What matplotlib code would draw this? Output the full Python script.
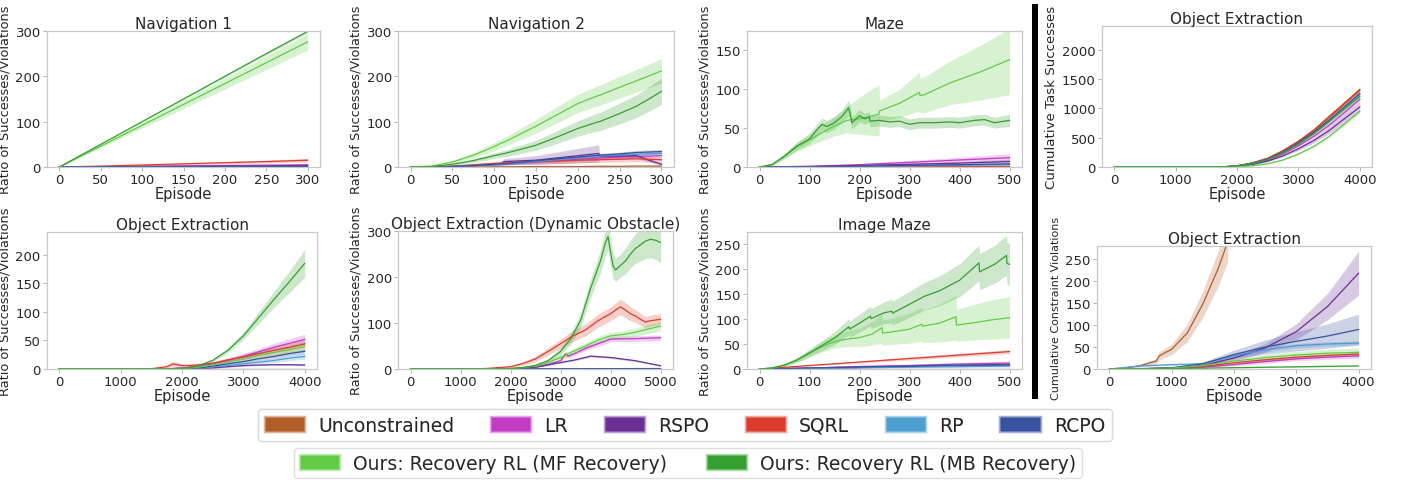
import matplotlib
matplotlib.use("Agg")
import matplotlib.pyplot as plt
from matplotlib.patches import Patch, Rectangle
import numpy as np

plt.rcParams['font.family'] = ['DejaVu Sans']

# ---------------- methods / colours ----------------
methods = ["Unconstrained", "LR", "RSPO", "SQRL", "RP", "RCPO", "MF", "MB"]
legend_labels = ["Unconstrained", "LR", "RSPO", "SQRL", "RP", "RCPO",
                 "Ours: Recovery RL (MF Recovery)", "Ours: Recovery RL (MB Recovery)"]
colors = ["#b15d28", "#c23bc4", "#6b2f95", "#dc3c2e", "#4a9ed0", "#37529e", "#62cc46", "#35a02f"]

# ---------------- Navigation 1 ----------------
nav1_x = [0, 50, 100, 150, 200, 250, 300]
nav1_mean = {
    "Unconstrained": [0, 0, 0, 0, 0, 0, 0],
    "LR": [0, 0.8, 1.6, 2.5, 3.3, 4.1, 5],
    "RSPO": [0, 0.5, 1, 1.5, 2, 2.5, 3],
    "SQRL": [0, 2, 4.5, 7, 9.5, 12, 15],
    "RP": [0, 0.2, 0.3, 0.5, 0.7, 0.8, 1],
    "RCPO": [0, 0.3, 0.5, 0.8, 1, 1.3, 1.5],
    "MF": [0, 46, 92, 138, 184, 230, 276],
    "MB": [0, 50, 100, 150, 200, 250, 299],
}
nav1_band = {
    "Unconstrained": [0, 0, 0, 0, 0, 0, 0],
    "LR": [0, 0.3, 0.5, 0.8, 1, 1.3, 1.5],
    "RSPO": [0, 0.2, 0.3, 0.5, 0.6, 0.8, 1],
    "SQRL": [0, 0.7, 1.3, 2, 2.7, 3.3, 4],
    "RP": [0, 0.1, 0.2, 0.3, 0.4, 0.5, 0.6],
    "RCPO": [0, 0.1, 0.2, 0.3, 0.4, 0.5, 0.6],
    "MF": [0, 3, 6, 9, 12, 15, 18],
    "MB": [0, 0.5, 1, 1.5, 2, 2.5, 3],
}

# ---------------- Navigation 2 ----------------
nav2_x = [0, 25, 50, 75, 100, 110, 111, 150, 175, 200, 225, 226, 250, 270, 285, 300]
nav2_mean = {
    "Unconstrained": [0, 0, 0, 0, 0.5, 0.5, 0.5, 1, 1, 1, 1.5, 1.5, 1.5, 2, 2, 2],
    "LR": [0, 0, 1, 3, 5, 6, 6, 11, 14, 17, 20, 20, 22, 23, 24, 25],
    "RSPO": [0, 0, 1, 3, 6, 7, 12, 15, 20, 25, 30, 24, 24, 25, 15, 6],
    "SQRL": [0, 0, 2, 5, 8, 9, 9, 12, 13, 15, 16, 16, 17, 18, 17, 16],
    "RP": [0, 0, 1, 3, 5, 6, 6, 12, 16, 20, 24, 24, 27, 28, 29, 30],
    "RCPO": [0, 0, 1, 3, 6, 7, 7, 14, 18, 22, 26, 26, 29, 32, 33, 34],
    "MF": [0, 2, 11, 26, 45, 54, 54, 90, 115, 140, 158, 158, 176, 190, 201, 212],
    "MB": [0, 1, 6, 14, 25, 29, 29, 48, 66, 85, 100, 100, 118, 134, 150, 167],
}
nav2_band = {
    "Unconstrained": [0, 0, 0, 0, 0.3, 0.3, 0.3, 0.5, 0.5, 0.5, 0.8, 0.8, 0.8, 1, 1, 1],
    "LR": [0, 0, 0.5, 1, 1.5, 2, 2, 2.5, 3, 3, 3.5, 3.5, 4, 4, 4, 4],
    "RSPO": [0, 0, 0.5, 1, 2, 3, 6, 10, 13, 16, 19, 5, 5, 5, 4, 3],
    "SQRL": [0, 0, 1, 2, 3, 4, 4, 5, 5, 6, 6, 6, 6, 6, 6, 6],
    "RP": [0, 0, 0.5, 1, 1.5, 2, 2, 2.5, 3, 3, 3.5, 3.5, 4, 4, 4, 4],
    "RCPO": [0, 0, 0.5, 1, 1.5, 2, 2, 3, 3, 3.5, 4, 4, 4, 4.5, 5, 5],
    "MF": [0, 1, 3, 6, 9, 10, 10, 15, 18, 20, 22, 22, 24, 25, 26, 27],
    "MB": [0, 1, 2, 4, 6, 7, 7, 11, 14, 17, 20, 20, 23, 25, 27, 29],
}

# ---------------- Maze ----------------
maze_x = [0, 100, 200, 300, 400, 500]
maze_mf_x = [0, 25, 50, 75, 100, 125, 150, 175, 200, 239, 240, 280, 320, 321, 330, 380, 440, 500]
maze_mb_x = [0, 25, 50, 75, 100, 115, 125, 135, 150, 165, 178, 180, 185, 200, 210, 220, 221,
             240, 260, 280, 300, 320, 350, 380, 400, 430, 450, 470, 500]
maze_mean = {
    "Unconstrained": [0, 0, 0, 0, 0, 0],
    "LR": [0, 1, 3, 6, 9, 12],
    "RSPO": [0, 0.5, 2, 3.5, 5, 7],
    "SQRL": [0, 0, 0.2, 0.3, 0.4, 0.5],
    "RP": [0, 0.2, 0.8, 1.5, 2.2, 3],
    "RCPO": [0, 0.3, 1, 2, 3, 4],
    "MF": [0, 3, 14, 26, 35, 44, 53, 60, 62, 68, 72, 82, 96, 92, 93, 108, 122, 138],
    "MB": [0, 3, 14, 27, 36, 48, 55, 52, 57, 65, 76, 72, 57, 66, 62, 64, 59, 60, 58, 59,
           55, 57, 57, 58, 57, 60, 61, 57, 60],
}
maze_band = {
    "Unconstrained": [0, 0, 0, 0, 0, 0],
    "LR": [0, 0.5, 1.5, 2.5, 3.5, 5],
    "RSPO": [0, 0.3, 1, 1.5, 2, 3],
    "SQRL": [0, 0, 0.1, 0.2, 0.2, 0.3],
    "RP": [0, 0.1, 0.4, 0.7, 1, 1.2],
    "RCPO": [0, 0.2, 0.5, 0.8, 1.2, 1.5],
    "MB": [0, 1, 3, 5, 6, 8, 8, 8, 8, 8, 10, 10, 8, 8, 7, 7, 7, 7, 7, 7, 7, 7, 7, 7, 7, 7, 7, 7, 8],
}
maze_mf_lo = [0, 2, 11, 20, 27, 34, 40, 44, 42, 40, 58, 64, 72, 70, 70, 80, 86, 93]
maze_mf_hi = [0, 4, 17, 32, 44, 55, 65, 78, 90, 106, 86, 100, 122, 114, 116, 136, 156, 178]

# ---------------- Object Extraction (ratio) ----------------
oe_x = [0, 1000, 1500, 1750, 1850, 1950, 2000, 2100, 2250, 2500, 2750, 3000, 3250, 3500, 3750, 4000]
oe_mean = {
    "Unconstrained": [0, 0, 0, 0, 0, 0, 0, 0, 0, 0, 0, 0, 0, 0, 0, 0],
    "LR": [0, 0, 0, 0.5, 1, 2, 2, 3, 5, 9, 15, 22, 30, 38, 45, 52],
    "RSPO": [0, 0, 0, 0, 0, 0.2, 0.3, 0.5, 1, 2, 4, 6, 7, 7.5, 7.5, 7],
    "SQRL": [0, 0, 0.5, 4, 9, 7, 6, 6, 7, 10, 16, 21, 27, 33, 38, 44],
    "RP": [0, 0, 0, 0, 0, 0.3, 0.5, 0.8, 1.5, 3.5, 6, 9, 12, 15, 19, 22],
    "RCPO": [0, 0, 0, 0, 0, 0.5, 0.5, 1, 2, 5, 9, 13, 18, 22, 27, 31],
    "MF": [0, 0, 0, 0, 0, 0.5, 1, 1.5, 3, 7, 12, 18, 24, 29, 34, 40],
    "MB": [0, 0, 0, 0, 0.5, 1, 1, 2, 5, 15, 33, 58, 90, 122, 153, 185],
}
oe_band = {
    "Unconstrained": [0, 0, 0, 0, 0, 0, 0, 0, 0, 0, 0, 0, 0, 0, 0, 0],
    "LR": [0, 0, 0, 0.3, 0.5, 1, 1, 1.5, 2, 3, 4, 5, 6, 7, 8, 9],
    "RSPO": [0, 0, 0, 0, 0, 0.1, 0.2, 0.3, 0.5, 0.8, 1, 1, 1, 1, 1, 1],
    "SQRL": [0, 0, 0.5, 2, 4, 4, 3, 3, 3, 3, 4, 5, 6, 7, 7, 8],
    "RP": [0, 0, 0, 0, 0, 0.2, 0.3, 0.5, 1, 1.5, 2, 3, 3.5, 4, 4.5, 5],
    "RCPO": [0, 0, 0, 0, 0, 0.3, 0.3, 0.5, 1, 1.5, 2, 2.5, 3, 3.5, 4, 4.5],
    "MF": [0, 0, 0, 0, 0, 0.3, 0.5, 1, 1.5, 2, 3, 4, 5, 6, 7, 8],
    "MB": [0, 0, 0, 0, 0, 0.3, 0.5, 1, 1.5, 2.5, 4, 6, 10, 14, 19, 24],
}

# ---------------- Object Extraction (Dynamic Obstacle) ----------------
dyn_base_x = [0, 2500, 5000]
dyn_mb_x = [0, 1000, 1500, 2000, 2250, 2500, 2750, 3000, 3200, 3400, 3500, 3600, 3700, 3800,
            3900, 3950, 4000, 4050, 4100, 4200, 4300, 4400, 4500, 4600, 4700, 4800, 4900, 5000]
dyn_sqrl_x = [0, 1000, 1500, 2000, 2250, 2500, 2750, 3000, 3250, 3500, 3750, 4000, 4100, 4200,
              4300, 4400, 4500, 4600, 4700, 4800, 5000]
dyn_mf_x = [0, 1000, 2000, 2500, 2750, 3000, 3250, 3500, 3750, 4000, 4250, 4500, 4750, 5000]
dyn_lr_x = [0, 1000, 2000, 2500, 2750, 3000, 3100, 3150, 3250, 3500, 3750, 4000, 4500, 5000]
dyn_rspo_x = [0, 1000, 2000, 2500, 3000, 3300, 3600, 4000, 4500, 5000]
dyn_mean = {
    "Unconstrained": [0, 0, 0],
    "LR": [0, 0, 0.5, 4, 10, 18, 33, 28, 32, 45, 55, 65, 66, 68],
    "RSPO": [0, 0, 0.5, 4, 14, 20, 28, 25, 18, 7],
    "SQRL": [0, 0, 1, 5, 12, 22, 38, 55, 72, 85, 105, 120, 128, 135, 128, 120, 115, 108, 102, 105, 108],
    "RP": [0, 0.3, 0.5],
    "RCPO": [0, 0.5, 1],
    "MF": [0, 0, 1, 6, 14, 25, 38, 50, 63, 72, 75, 80, 87, 93],
    "MB": [0, 0, 0, 1, 3, 8, 18, 38, 65, 105, 140, 175, 205, 235, 275, 288, 255, 225, 215, 225,
           235, 250, 262, 270, 278, 282, 280, 275],
}
dyn_band = {
    "Unconstrained": [0, 0, 0],
    "LR": [0, 0, 0.3, 1, 2, 3, 6, 4, 4, 5, 6, 6, 6, 6],
    "RSPO": [0, 0, 0.2, 1, 1.5, 2, 2, 2, 2, 1],
    "SQRL": [0, 0, 0.5, 2, 4, 6, 8, 10, 12, 13, 14, 15, 16, 17, 16, 15, 14, 13, 12, 12, 12],
    "RP": [0, 0.1, 0.2],
    "RCPO": [0, 0.2, 0.3],
    "MF": [0, 0, 0.5, 2, 3, 5, 6, 7, 8, 8, 8, 9, 10, 10],
    "MB": [0, 0, 0, 0.5, 1, 2, 4, 8, 12, 15, 17, 20, 22, 25, 28, 30, 30, 28, 25, 25, 28, 30,
           32, 35, 38, 40, 42, 44],
}

# ---------------- Image Maze ----------------
imz_x = [0, 100, 200, 300, 400, 500]
imz_mb_x = [0, 25, 50, 75, 100, 125, 150, 179, 180, 200, 222, 223, 245, 250, 265, 266, 300, 330,
            360, 400, 439, 440, 470, 494, 495, 500]
imz_mf_x = [0, 25, 50, 75, 100, 125, 150, 175, 200, 225, 245, 246, 275, 300, 325, 326, 360, 393,
            394, 430, 460, 500]
imz_mean = {
    "Unconstrained": [0, 0, 0, 0, 0, 0],
    "LR": [0, 2, 5, 7, 10, 12],
    "RSPO": [0, 1.5, 3, 5, 6, 8],
    "SQRL": [0, 7, 14, 21, 28, 35],
    "RP": [0, 1, 2.5, 4, 5, 6],
    "RCPO": [0, 2, 4, 6, 8, 9],
    "MF": [0, 2, 8, 18, 32, 45, 55, 60, 63, 70, 83, 72, 76, 80, 90, 86, 92, 105, 88, 93, 98, 103],
    "MB": [0, 2, 8, 18, 32, 47, 62, 85, 80, 92, 106, 101, 111, 113, 116, 112, 130, 146, 157,
           178, 213, 195, 210, 228, 212, 210],
}
imz_band = {
    "Unconstrained": [0, 0, 0, 0, 0, 0],
    "LR": [0, 1, 2, 2.5, 3, 3.5],
    "RSPO": [0, 0.5, 1, 1.5, 2, 2.5],
    "SQRL": [0, 1, 2, 3, 3.5, 4],
    "RP": [0, 0.5, 1, 1, 1.5, 2],
    "RCPO": [0, 0.5, 1, 1, 1.5, 2],
    "MB": [0, 1, 2, 4, 7, 10, 13, 16, 16, 18, 20, 20, 22, 22, 24, 24, 26, 28, 30, 33, 36, 36,
           38, 40, 42, 42],
}
imz_mf_lo = [0, 1, 5, 13, 24, 34, 42, 45, 45, 48, 52, 48, 50, 52, 56, 53, 54, 58, 56, 58, 60, 62]
imz_mf_hi = [0, 3, 11, 23, 40, 56, 68, 77, 82, 95, 110, 98, 105, 112, 124, 118, 130, 148, 120,
             130, 138, 145]

# ---------------- Cumulative task successes ----------------
succ_x = [0, 1000, 1500, 1800, 2000, 2250, 2500, 2750, 3000, 3250, 3500, 3750, 4000]
succ_mean = {
    "Unconstrained": [0, 0, 0, 5, 20, 70, 150, 280, 440, 630, 860, 1090, 1320],
    "LR": [0, 0, 0, 3, 15, 52, 115, 220, 360, 520, 710, 925, 1150],
    "RSPO": [0, 0, 0, 2, 12, 44, 100, 190, 310, 450, 620, 820, 1020],
    "SQRL": [0, 0, 0, 5, 20, 68, 145, 272, 430, 615, 840, 1070, 1300],
    "RP": [0, 0, 0, 4, 17, 60, 130, 248, 400, 575, 785, 1005, 1230],
    "RCPO": [0, 0, 0, 4, 18, 62, 135, 255, 410, 590, 800, 1025, 1250],
    "MF": [0, 0, 0, 1, 5, 20, 55, 120, 220, 350, 520, 730, 950],
    "MB": [0, 0, 0, 4, 17, 58, 128, 242, 390, 565, 770, 985, 1200],
}
succ_band = {
    "Unconstrained": [0, 0, 0, 1, 3, 6, 10, 15, 20, 25, 30, 32, 35],
    "LR": [0, 0, 0, 1, 3, 6, 10, 15, 22, 30, 38, 45, 50],
    "RSPO": [0, 0, 0, 1, 3, 6, 10, 18, 28, 40, 55, 70, 80],
    "SQRL": [0, 0, 0, 1, 3, 5, 8, 12, 16, 20, 24, 28, 30],
    "RP": [0, 0, 0, 1, 3, 5, 8, 12, 16, 20, 24, 28, 30],
    "RCPO": [0, 0, 0, 1, 3, 5, 8, 12, 16, 20, 24, 28, 30],
    "MF": [0, 0, 0, 0.5, 2, 4, 7, 10, 14, 18, 22, 26, 30],
    "MB": [0, 0, 0, 1, 3, 5, 8, 12, 16, 20, 24, 28, 30],
}

# ---------------- Cumulative constraint violations ----------------
viol_x = [0, 500, 1000, 1500, 2000, 2500, 3000, 3500, 4000]
viol_unc_x = [0, 250, 500, 750, 800, 1000, 1250, 1500, 1750, 1900]
viol_mean = {
    "Unconstrained": [0, 2, 8, 18, 30, 45, 82, 148, 230, 290],
    "LR": [0, 0.3, 1, 4, 10, 17, 23, 27, 30],
    "RSPO": [0, 0.5, 2, 8, 25, 48, 85, 142, 218],
    "SQRL": [0, 0.5, 2, 6, 14, 21, 27, 31, 34],
    "RP": [0, 7, 10, 12, 30, 44, 53, 57, 59],
    "RCPO": [0, 1, 3, 12, 33, 50, 63, 75, 90],
    "MF": [0, 0.5, 2, 8, 18, 26, 32, 36, 38],
    "MB": [0, 0.2, 1, 2, 3, 4, 5, 6, 7],
}
viol_band = {
    "Unconstrained": [0, 1, 3, 6, 9, 12, 20, 30, 40, 45],
    "LR": [0, 0.3, 1, 2, 3, 4, 4, 5, 5],
    "RSPO": [0, 0.3, 1, 3, 6, 10, 18, 30, 50],
    "SQRL": [0, 0.3, 1, 2, 3, 4, 4, 4, 4],
    "RP": [0, 1, 2, 2, 4, 5, 5, 5, 5],
    "RCPO": [0, 0.5, 1, 4, 10, 16, 22, 28, 35],
    "MF": [0, 0.3, 1, 3, 5, 7, 8, 9, 10],
    "MB": [0, 0.1, 0.3, 0.5, 0.6, 0.7, 0.8, 0.9, 1],
}

# ---------------- figure ----------------
W, H = 1402, 481
fig = plt.figure(figsize=(W / 100, H / 100), dpi=100)
SPINE = "#c8c8c8"
TXT = "#262626"


def px_axes(l, r, t, b):
    return fig.add_axes([l / W, 1 - b / H, (r - l) / W, (b - t) / H])


def style(ax, title, xticks, yticks, xlim, ylim, ylabel, ylsize=9.3):
    ax.set_title(title, fontsize=11, color=TXT, pad=2)
    ax.set_xticks(xticks)
    ax.set_yticks(yticks)
    ax.set_xlim(*xlim)
    ax.set_ylim(*ylim)
    ax.set_xlabel("Episode", fontsize=10.5, color=TXT, labelpad=0)
    ax.set_ylabel(ylabel, fontsize=ylsize, color=TXT, labelpad=3)
    ax.tick_params(labelsize=9.5, colors=TXT, length=3, width=0.6, pad=1.5)
    ax.tick_params(axis='both', color="#aaaaaa")
    for s in ax.spines.values():
        s.set_color(SPINE)
        s.set_linewidth(0.9)


def plot_panel(ax, xs, mean, band, lohi=None):
    lohi = lohi or {}
    for m, c in zip(methods, colors):
        x = np.array(xs[m], dtype=float)
        y = np.array(mean[m], dtype=float)
        if m in lohi:
            lo = np.array(lohi[m][0], dtype=float)
            hi = np.array(lohi[m][1], dtype=float)
        else:
            b = np.array(band[m], dtype=float)
            lo, hi = y - b, y + b
        ax.fill_between(x, lo, hi, color=c, alpha=0.25, lw=0)
        ax.plot(x, y, color=c, lw=0.9)


def same_x(x):
    return {m: x for m in methods}


RATIO = "Ratio of Successes/Violations"

# Navigation 1
ax = px_axes(47, 320, 32, 168)
plot_panel(ax, same_x(nav1_x), nav1_mean, nav1_band)
style(ax, "Navigation 1", [0, 50, 100, 150, 200, 250, 300], [0, 100, 200, 300], (-15, 315), (0, 300), RATIO)

# Navigation 2
ax = px_axes(398, 674, 32, 168)
plot_panel(ax, same_x(nav2_x), nav2_mean, nav2_band)
style(ax, "Navigation 2", [0, 50, 100, 150, 200, 250, 300], [0, 100, 200, 300], (-15, 315), (0, 300), RATIO)

# Maze
ax = px_axes(747, 1022, 32, 168)
xs = same_x(maze_x)
xs["MF"] = maze_mf_x
xs["MB"] = maze_mb_x
plot_panel(ax, xs, maze_mean, maze_band, {"MF": (maze_mf_lo, maze_mf_hi)})
style(ax, "Maze", [0, 100, 200, 300, 400, 500], [0, 50, 100, 150], (-25, 525), (0, 175), RATIO)

# Object Extraction (ratio)
ax = px_axes(47, 317, 233, 370)
plot_panel(ax, same_x(oe_x), oe_mean, oe_band)
style(ax, "Object Extraction", [0, 1000, 2000, 3000, 4000], [0, 50, 100, 150, 200], (-200, 4200), (0, 240), RATIO)

# Object Extraction (Dynamic Obstacle)
ax = px_axes(398, 673, 232, 370)
xs = same_x(dyn_base_x)
xs["MB"] = dyn_mb_x
xs["SQRL"] = dyn_sqrl_x
xs["MF"] = dyn_mf_x
xs["LR"] = dyn_lr_x
xs["RSPO"] = dyn_rspo_x
plot_panel(ax, xs, dyn_mean, dyn_band)
style(ax, "Object Extraction (Dynamic Obstacle)", [0, 1000, 2000, 3000, 4000, 5000], [0, 100, 200, 300],
      (-250, 5250), (0, 300), RATIO)

# Image Maze
ax = px_axes(747, 1022, 233, 370)
xs = same_x(imz_x)
xs["MF"] = imz_mf_x
xs["MB"] = imz_mb_x
plot_panel(ax, xs, imz_mean, imz_band, {"MF": (imz_mf_lo, imz_mf_hi)})
style(ax, "Image Maze", [0, 100, 200, 300, 400, 500], [0, 50, 100, 150, 200, 250], (-25, 525), (0, 275), RATIO)

# Cumulative task successes
ax = px_axes(1102, 1372, 27, 168)
plot_panel(ax, same_x(succ_x), succ_mean, succ_band)
style(ax, "Object Extraction", [0, 1000, 2000, 3000, 4000], [0, 500, 1000, 1500, 2000], (-200, 4200), (0, 2400),
      "Cumulative Task Successes", ylsize=9.6)

# Cumulative constraint violations
ax = px_axes(1097, 1371, 247, 370)
xs = same_x(viol_x)
xs["Unconstrained"] = viol_unc_x
plot_panel(ax, xs, viol_mean, viol_band)
style(ax, "Object Extraction", [0, 1000, 2000, 3000, 4000], [0, 50, 100, 150, 200, 250], (-200, 4200), (0, 280),
      "Cumulative Constraint Violations", ylsize=8.0)

# black separator bar
fig.add_artist(Rectangle((1032 / W, 1 - 400 / H), 6 / W, 395 / H, transform=fig.transFigure,
                         facecolor="black", edgecolor="none"))

# legends
edge_handles = [Patch(facecolor=c, edgecolor=matplotlib.colors.to_rgba(c, 0.4), linewidth=2.5)
                for c in colors]

leg1 = fig.legend(edge_handles[:6], legend_labels[:6], loc="center", ncol=6,
                  bbox_to_anchor=(685 / W, 1 - 426 / H), fontsize=13.5, frameon=True,
                  handlelength=2.1, handleheight=0.75, columnspacing=1.95, handletextpad=0.75,
                  borderpad=0.35, edgecolor="#d8d8d8")
fig.add_artist(leg1)
leg2 = fig.legend(edge_handles[6:], legend_labels[6:], loc="center", ncol=2,
                  bbox_to_anchor=(688 / W, 1 - 464 / H), fontsize=13.5, frameon=True,
                  handlelength=2.1, handleheight=0.75, columnspacing=2.1, handletextpad=0.75,
                  borderpad=0.3, edgecolor="#d8d8d8")
for leg in (leg1, leg2):
    for t in leg.get_texts():
        t.set_color(TXT)

fig.savefig("out.png", dpi=100)
